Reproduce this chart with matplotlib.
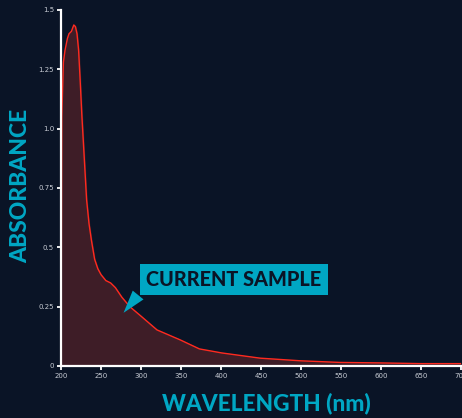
import matplotlib
matplotlib.use("Agg")
import matplotlib.pyplot as plt

wavelength = [200, 201, 203, 205, 208, 210, 213, 216, 218, 220, 222, 224, 226, 228, 230, 232, 235, 238, 242, 246, 250, 256, 262, 268, 276, 286, 300, 320, 349, 373, 401, 449, 499, 549, 600, 650, 700]
absorbance = [0.0, 1.05, 1.28, 1.33, 1.38, 1.40, 1.41, 1.437, 1.43, 1.40, 1.33, 1.20, 1.06, 0.94, 0.82, 0.70, 0.60, 0.53, 0.45, 0.41, 0.385, 0.36, 0.35, 0.33, 0.29, 0.25, 0.21, 0.152, 0.11, 0.072, 0.055, 0.033, 0.022, 0.015, 0.013, 0.01, 0.01]
xticks = [200, 250, 300, 350, 400, 450, 500, 550, 600, 650, 700]
yticks = [0, 0.25, 0.5, 0.75, 1.0, 1.25, 1.5]
ytick_labels = ["0", "0.25", "0.5", "0.75", "1.0", "1.25", "1.5"]

BG = "#0a1426"
CYAN = "#00a7c4"

fig = plt.figure(figsize=(4.62, 4.18), dpi=100, facecolor=BG)
ax = fig.add_axes([61/462, 52/418, 400/462, 356/418], facecolor=BG)

ax.fill_between(wavelength, absorbance, 0, color="#3e1d27", zorder=1)
ax.plot(wavelength, absorbance, color="#ff2a1f", lw=1.0, zorder=2)

ax.set_xlim(200, 700)
ax.set_ylim(0, 1.5)
ax.set_xticks(xticks)
ax.set_yticks(yticks)
ax.set_yticklabels(ytick_labels)
for s in ["top", "right"]:
    ax.spines[s].set_visible(False)
for s in ["left", "bottom"]:
    ax.spines[s].set_color("white")
    ax.spines[s].set_linewidth(1.6)
ax.tick_params(colors="white", labelcolor="#c8ccd4", labelsize=5, length=3, width=1.3, pad=2)

fig.text(21/462, 1 - 186/418, "ABSORBANCE", rotation=90, ha="center", va="center",
         color=CYAN, fontsize=16.5, fontweight="black", family="Lato")
fig.text(266/462, 1 - 403/418, "WAVELENGTH (nm)", ha="center", va="center",
         color=CYAN, fontsize=16.3, fontweight="black", family="Lato")

ax.annotate("CURRENT SAMPLE", xy=(276, 0.215), xytext=(416, 0.365),
            ha="center", va="center", color=BG, fontsize=14.3, fontweight="black", family="Lato",
            bbox=dict(boxstyle="square,pad=0.32", fc=CYAN, ec="none"),
            arrowprops=dict(arrowstyle="wedge,tail_width=0.7,shrink_factor=0.5", fc=CYAN, ec="none",
                            relpos=(0.0, 0.2)),
            zorder=5)

fig.savefig("out.png", dpi=100, facecolor=BG)
